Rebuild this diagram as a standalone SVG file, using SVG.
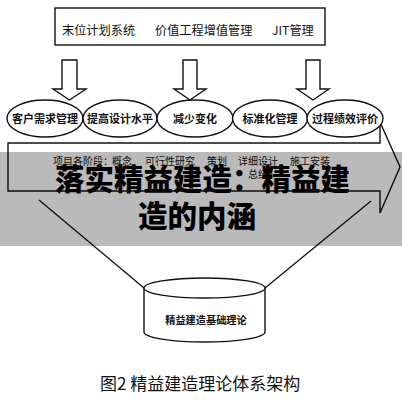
<svg xmlns="http://www.w3.org/2000/svg" width="402" height="400" viewBox="0 0 402 400">
<style>
.ln{fill:none;stroke:#111;stroke-width:1.3}
.shape{fill:#fff;stroke:#111;stroke-width:1.4}
.t{font-family:"Noto Sans CJK SC","Liberation Sans",sans-serif;fill:#111}
.lab{font-size:11px;font-weight:bold;text-anchor:middle}
.big{font-family:"Noto Sans CJK SC",sans-serif;font-size:29.5px;font-weight:900;fill:#000}
</style>
<rect width="402" height="400" fill="#fff"/>
<g id="top-box">
<rect class="shape" x="55" y="8" width="270" height="37"/>
<text class="t" y="34.5" font-size="12.2"><tspan x="62">末位计划系统</tspan><tspan x="155">价值工程增值管理</tspan><tspan x="272">JIT管理</tspan></text>
</g>
<g id="big-arrow">
<polygon class="shape" stroke-width="1.7" points="8,143 380,143 380,122 400,167 380,213 380,191 8,191"/>
<text class="t" y="164.5" font-size="10" fill="#333"><tspan x="53">项目各阶段：</tspan><tspan x="112">概念</tspan><tspan x="145">可行性研究</tspan><tspan x="207">策划</tspan><tspan x="238">详细设计</tspan><tspan x="290">施工安装</tspan></text>
<text class="t" x="248" y="177.5" font-size="10" fill="#333">总结</text>
</g>
<g id="ellipses">
<g id="n1"><ellipse class="shape" cx="45" cy="118.5" rx="38" ry="18.5"/><text class="t lab" x="45" y="122.5">客户需求管理</text></g>
<g id="n2"><ellipse class="shape" cx="120" cy="118.5" rx="37" ry="18.5"/><text class="t lab" x="120" y="122.5">提高设计水平</text></g>
<g id="n3"><ellipse class="shape" cx="195" cy="118.5" rx="38" ry="18.5"/><text class="t lab" x="195" y="122.5">减少变化</text></g>
<g id="n4"><ellipse class="shape" cx="270" cy="118.5" rx="37.5" ry="18.5"/><text class="t lab" x="270" y="122.5">标准化管理</text></g>
<g id="n5"><ellipse class="shape" cx="345" cy="118.5" rx="38" ry="18.5"/><text class="t lab" x="345" y="122.5">过程绩效评价</text></g>
</g>
<g id="connectors">
<polygon class="shape" points="62,60 77,60 77,89 86,89 69.5,100 53,89 62,89"/>
<polygon class="shape" points="183,60 197,60 197,89 206,89 190,100 174,89 183,89"/>
<polygon class="shape" points="306,60 320,60 320,89 329,89 313,100 297,89 306,89"/>
<line class="ln" x1="39" y1="200" x2="144" y2="288"/>
<line class="ln" x1="371" y1="201" x2="265" y2="288"/>
</g>
<g id="cylinder">
<path class="shape" d="M144,288 L144,332 A60.5,10 0 0 0 265,332 L265,288"/>
<ellipse class="shape" cx="204.5" cy="288" rx="60.5" ry="10"/>
<text class="t" x="206" y="324" font-size="10.2" font-weight="bold" text-anchor="middle">精益建造基础理论</text>
</g>
<g id="banner">
<rect x="0" y="152" width="402" height="94" fill="#000" fill-opacity="0.27"/>
<text class="big" x="55" y="190">落实精益建造：精益建</text>
<text class="big" x="138" y="227">造的内涵</text>
</g>
<text class="t" x="100" y="390" font-size="17">图2 精益建造理论体系架构</text>
</svg>
